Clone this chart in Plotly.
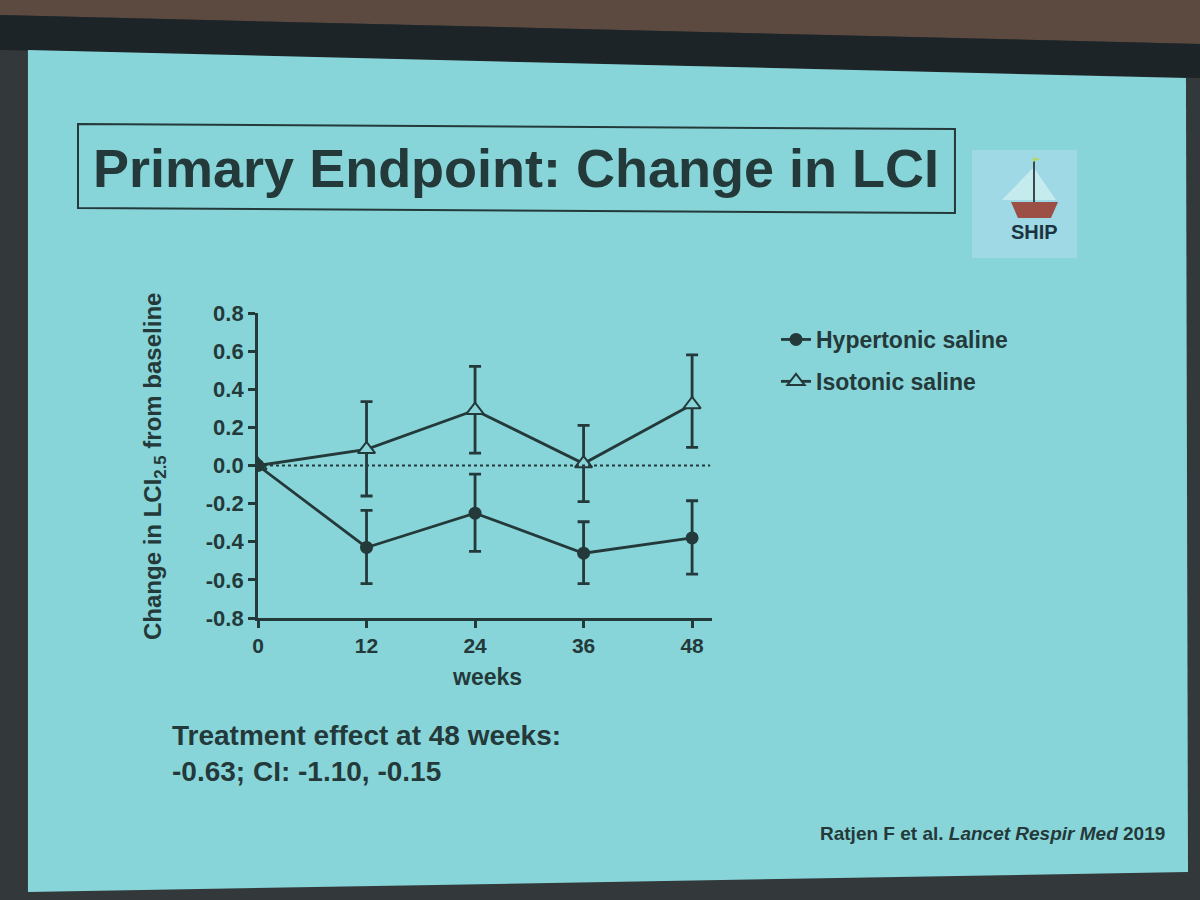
import plotly.graph_objects as go

# values (change in LCI2.5 from baseline)
weeks = [0, 12, 24, 36, 48]
week_labels = ["0", "12", "24", "36", "48"]

hyper_mean = [0.0, -0.43, -0.25, -0.46, -0.38]
hyper_upper = [0.0, -0.235, -0.045, -0.295, -0.185]
hyper_lower = [0.0, -0.62, -0.45, -0.62, -0.57]

iso_mean = [0.0, 0.085, 0.29, 0.01, 0.32]
iso_upper = [0.0, 0.335, 0.52, 0.21, 0.58]
iso_lower = [0.0, -0.16, 0.065, -0.19, 0.095]

y_ticks = [-0.8, -0.6, -0.4, -0.2, 0.0, 0.2, 0.4, 0.6, 0.8]
y_labels = ["-0.8", "-0.6", "-0.4", "-0.2", "0.0", "0.2", "0.4", "0.6", "0.8"]

W, H = 1200, 900
INK = "#24393a"
SLIDE = "#88d5d9"
FONT = "Arial, Liberation Sans, sans-serif"


def px(x, y):
    # screen pixels -> paper coords
    return x / W, 1 - y / H


def poly(points):
    parts = []
    for i, (x, y) in enumerate(points):
        u, v = px(x, y)
        parts.append(("M" if i == 0 else "L") + f"{u:.4f},{v:.4f}")
    return " ".join(parts) + " Z"


def note(text, x, y, size, **kw):
    u, v = px(x, y)
    d = dict(text=text, xref="paper", yref="paper", x=u, y=v, showarrow=False,
             xanchor="center", yanchor="middle",
             font=dict(family=FONT, size=size, color=INK, weight="bold"))
    d.update(kw)
    return d


fig = go.Figure()

fig.add_trace(go.Scatter(
    x=weeks, y=iso_mean, name="Isotonic saline", mode="lines+markers",
    legendgroup="iso", legendrank=2,
    line=dict(color=INK, width=2.8),
    marker=dict(symbol="triangle-up", size=15, color=SLIDE,
                line=dict(color=INK, width=2)),
    error_y=dict(type="data", symmetric=False,
                 array=[u - m for u, m in zip(iso_upper, iso_mean)],
                 arrayminus=[m - l for m, l in zip(iso_mean, iso_lower)],
                 color=INK, thickness=2.8, width=6),
))
fig.add_trace(go.Scatter(
    x=weeks, y=hyper_mean, name="Hypertonic saline", mode="lines+markers",
    legendgroup="hyper", legendrank=1,
    line=dict(color=INK, width=2.8),
    marker=dict(symbol="circle", size=13, color=INK),
    error_y=dict(type="data", symmetric=False,
                 array=[u - m for u, m in zip(hyper_upper, hyper_mean)],
                 arrayminus=[m - l for m, l in zip(hyper_mean, hyper_lower)],
                 color=INK, thickness=2.8, width=6),
))

x0, y0 = px(258, 618)
x1, y1 = px(712, 313)

shapes = [
    # room: brown ceiling strip, dark frame, then the projected slide
    dict(type="path", xref="paper", yref="paper", layer="below",
         path=poly([(0, 0), (1200, 0), (1200, 44), (0, 15)]),
         fillcolor="#5c4940", line_width=0),
    dict(type="path", xref="paper", yref="paper", layer="below",
         path=poly([(0, 15), (1200, 44), (1200, 78), (0, 50)]),
         fillcolor="#1d2427", line_width=0),
    dict(type="path", xref="paper", yref="paper", layer="below",
         path=poly([(28, 50), (1186, 78), (1188, 872), (28, 892)]),
         fillcolor=SLIDE, line_width=0),
    # title box
    dict(type="path", xref="paper", yref="paper", layer="below",
         path=poly([(78, 124), (955, 129), (955, 213), (78, 208)]),
         fillcolor="rgba(0,0,0,0)", line=dict(color=INK, width=2)),
    # dotted baseline at zero
    dict(type="line", xref="x", yref="y", x0=0, x1=50, y0=0, y1=0,
         line=dict(color=INK, width=2, dash="dot")),
    # logo
    dict(type="rect", xref="paper", yref="paper", layer="below",
         x0=px(972, 258)[0], y0=px(972, 258)[1], x1=px(1077, 150)[0], y1=px(1077, 150)[1],
         fillcolor="#9fd9e6", line_width=0),
    dict(type="path", xref="paper", yref="paper",
         path=poly([(1033, 168), (1033, 200), (1002, 200)]),
         fillcolor="#c6ebee", line_width=0),
    dict(type="path", xref="paper", yref="paper",
         path=poly([(1034, 168), (1034, 200), (1056, 200)]),
         fillcolor="#c6ebee", line_width=0),
    dict(type="line", xref="paper", yref="paper",
         x0=px(1034, 160)[0], y0=px(1034, 160)[1], x1=px(1034, 202)[0], y1=px(1034, 202)[1],
         line=dict(color="#3a4a4a", width=2)),
    dict(type="path", xref="paper", yref="paper",
         path=poly([(1033, 157), (1040, 159), (1033, 162)]),
         fillcolor="#b7d66a", line_width=0),
    dict(type="path", xref="paper", yref="paper",
         path=poly([(1011, 202), (1058, 202), (1051, 218), (1018, 218)]),
         fillcolor="#9c4f45", line_width=0),
]

annotations = [
    note("Primary Endpoint: Change in LCI", 516, 168, 54),
    note("Change in LCI<sub>2.5</sub> from baseline", 155, 467, 24, textangle=-90),
    note("weeks", 487, 677, 23),
    note("Treatment effect at 48 weeks:<br>-0.63; CI: -1.10, -0.15", 170, 753, 28,
         xanchor="left", align="left"),
    note("Ratjen F et al. <i>Lancet Respir Med</i> 2019", 818, 833, 19, xanchor="left"),
    note("SHIP", 1034, 232, 20, font=dict(family=FONT, size=20, color="#1c3440", weight="bold")),
]

fig.update_layout(
    width=W, height=H,
    margin=dict(l=0, r=0, t=0, b=0, autoexpand=False),
    paper_bgcolor="#33393b",
    plot_bgcolor="rgba(0,0,0,0)",
    font=dict(family=FONT, color=INK),
    shapes=shapes,
    annotations=annotations,
    showlegend=True,
    legend=dict(x=px(776, 318)[0], y=px(776, 318)[1], xanchor="left", yanchor="top",
                bgcolor="rgba(0,0,0,0)", traceorder="grouped", tracegroupgap=9,
                itemwidth=30,
                font=dict(family=FONT, size=23, color=INK, weight="bold")),
    xaxis=dict(domain=[x0, x1], range=[0, 50.2], tickvals=weeks, ticktext=week_labels,
               showgrid=False, zeroline=False, showline=True, linecolor=INK, linewidth=2.8,
               ticks="outside", ticklen=7, tickwidth=2.5, tickcolor=INK, automargin=False,
               tickfont=dict(family=FONT, size=21, color=INK, weight="bold")),
    yaxis=dict(domain=[y0, y1], range=[-0.8, 0.8], tickvals=y_ticks, ticktext=y_labels,
               showgrid=False, zeroline=False, showline=True, linecolor=INK, linewidth=2.8,
               ticks="outside", ticklen=7, tickwidth=2.5, tickcolor=INK, automargin=False,
               tickfont=dict(family=FONT, size=22, color=INK, weight="bold")),
)

# drop the browser's default body margin so the 1200x900 figure fills the window
fig.write_html("out.html", config={"displayModeBar": False},
               post_script="document.body.style.margin='0';")
